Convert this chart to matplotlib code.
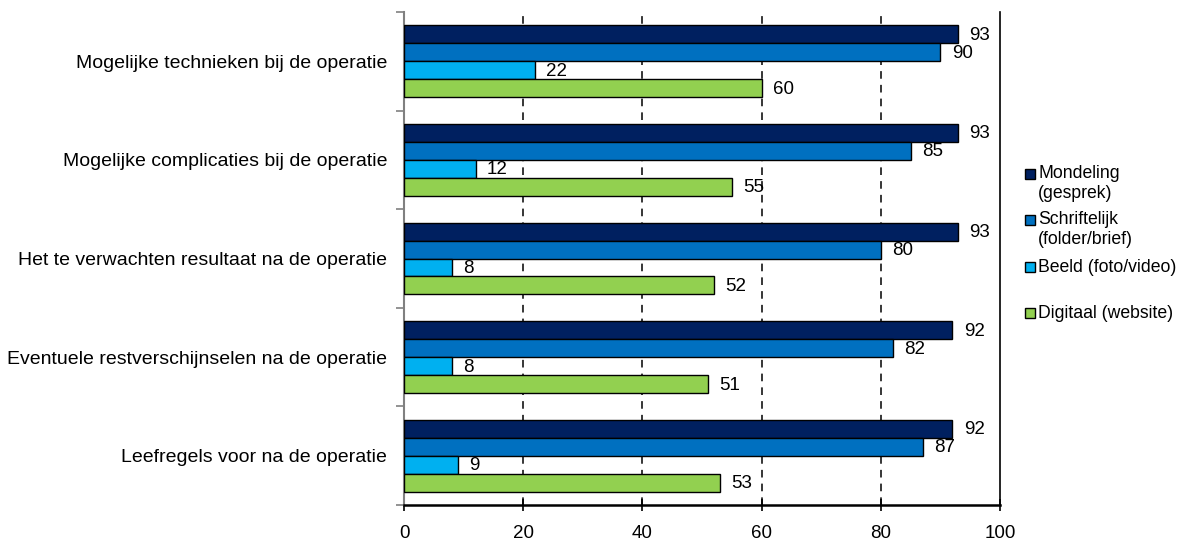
import numpy as np
import matplotlib
matplotlib.use("Agg")
import matplotlib.pyplot as plt
from matplotlib.patches import Rectangle

plt.rcParams['font.family'] = ['Liberation Sans', 'DejaVu Sans']

categories = ["Mogelijke technieken bij de operatie",
              "Mogelijke complicaties bij de operatie",
              "Het te verwachten resultaat na de operatie",
              "Eventuele restverschijnselen na de operatie",
              "Leefregels voor na de operatie"]
series = ["Mondeling\n(gesprek)", "Schriftelijk\n(folder/brief)",
          "Beeld (foto/video)", "Digitaal (website)"]
mondeling = [93, 93, 93, 92, 92]
schriftelijk = [90, 85, 80, 82, 87]
beeld = [22, 12, 8, 8, 9]
digitaal = [60, 55, 52, 51, 53]
colors = ["#002060", "#0070C0", "#00B0F0", "#92D050"]

W, H = 1179, 545
fig = plt.figure(figsize=(W/100, H/100), dpi=100)
ax = fig.add_axes([404/W, 1 - 505/H, 596/W, 493/H])

y = np.arange(len(categories))
h = 0.182
values = [mondeling, schriftelijk, beeld, digitaal]
for i, (vals, c, lab) in enumerate(zip(values, colors, series)):
    pos = y - 1.5*h + i*h
    ax.barh(pos, vals, height=h, color=c, edgecolor="black", linewidth=1.0,
            label=lab, zorder=3)
    for p, v in zip(pos, vals):
        ax.text(v + 1.9, p + 0.01, str(v), va="center", ha="left", fontsize=13.5, zorder=4)

ax.set_xlim(0, 100)
ax.set_ylim(len(categories) - 0.5, -0.5)
ax.set_xticks(range(0, 101, 20))
ax.tick_params(axis="x", direction="inout", length=9, width=1.2, labelsize=13.5, pad=10)
for xv in [20, 40, 60, 80]:
    ax.axvline(xv, color="black", linestyle=(0, (5, 4)), linewidth=1.1, zorder=1)

ax.set_yticks(y)
ax.set_yticklabels(categories, fontsize=14)
ax.set_yticks(np.arange(-0.5, len(categories), 1), minor=True)
ax.tick_params(axis="y", which="major", length=0, pad=12)
ax.tick_params(axis="y", which="minor", length=6, width=1.2, color="#808080", direction="out")

ax.spines["top"].set_visible(False)
ax.spines["left"].set_color("#808080")
ax.spines["left"].set_linewidth(1.5)
ax.spines["bottom"].set_linewidth(1.8)
ax.spines["right"].set_linewidth(1.2)

# legend drawn by hand to keep Excel's uneven spacing
leg_y = [174, 220, 267, 313]
for c, lab, ly in zip(colors, series, leg_y):
    fig.patches.append(Rectangle((1025/W, 1 - (ly + 5)/H), 10/W, 10/H,
                                 facecolor=c, edgecolor="black", linewidth=1.0,
                                 transform=fig.transFigure, figure=fig))
    for k, line in enumerate(lab.split("\n")):
        fig.text(1038/W, 1 - (ly + 19*k)/H, line, fontsize=12.7, va="center", ha="left")

fig.savefig("out.png", dpi=100)
